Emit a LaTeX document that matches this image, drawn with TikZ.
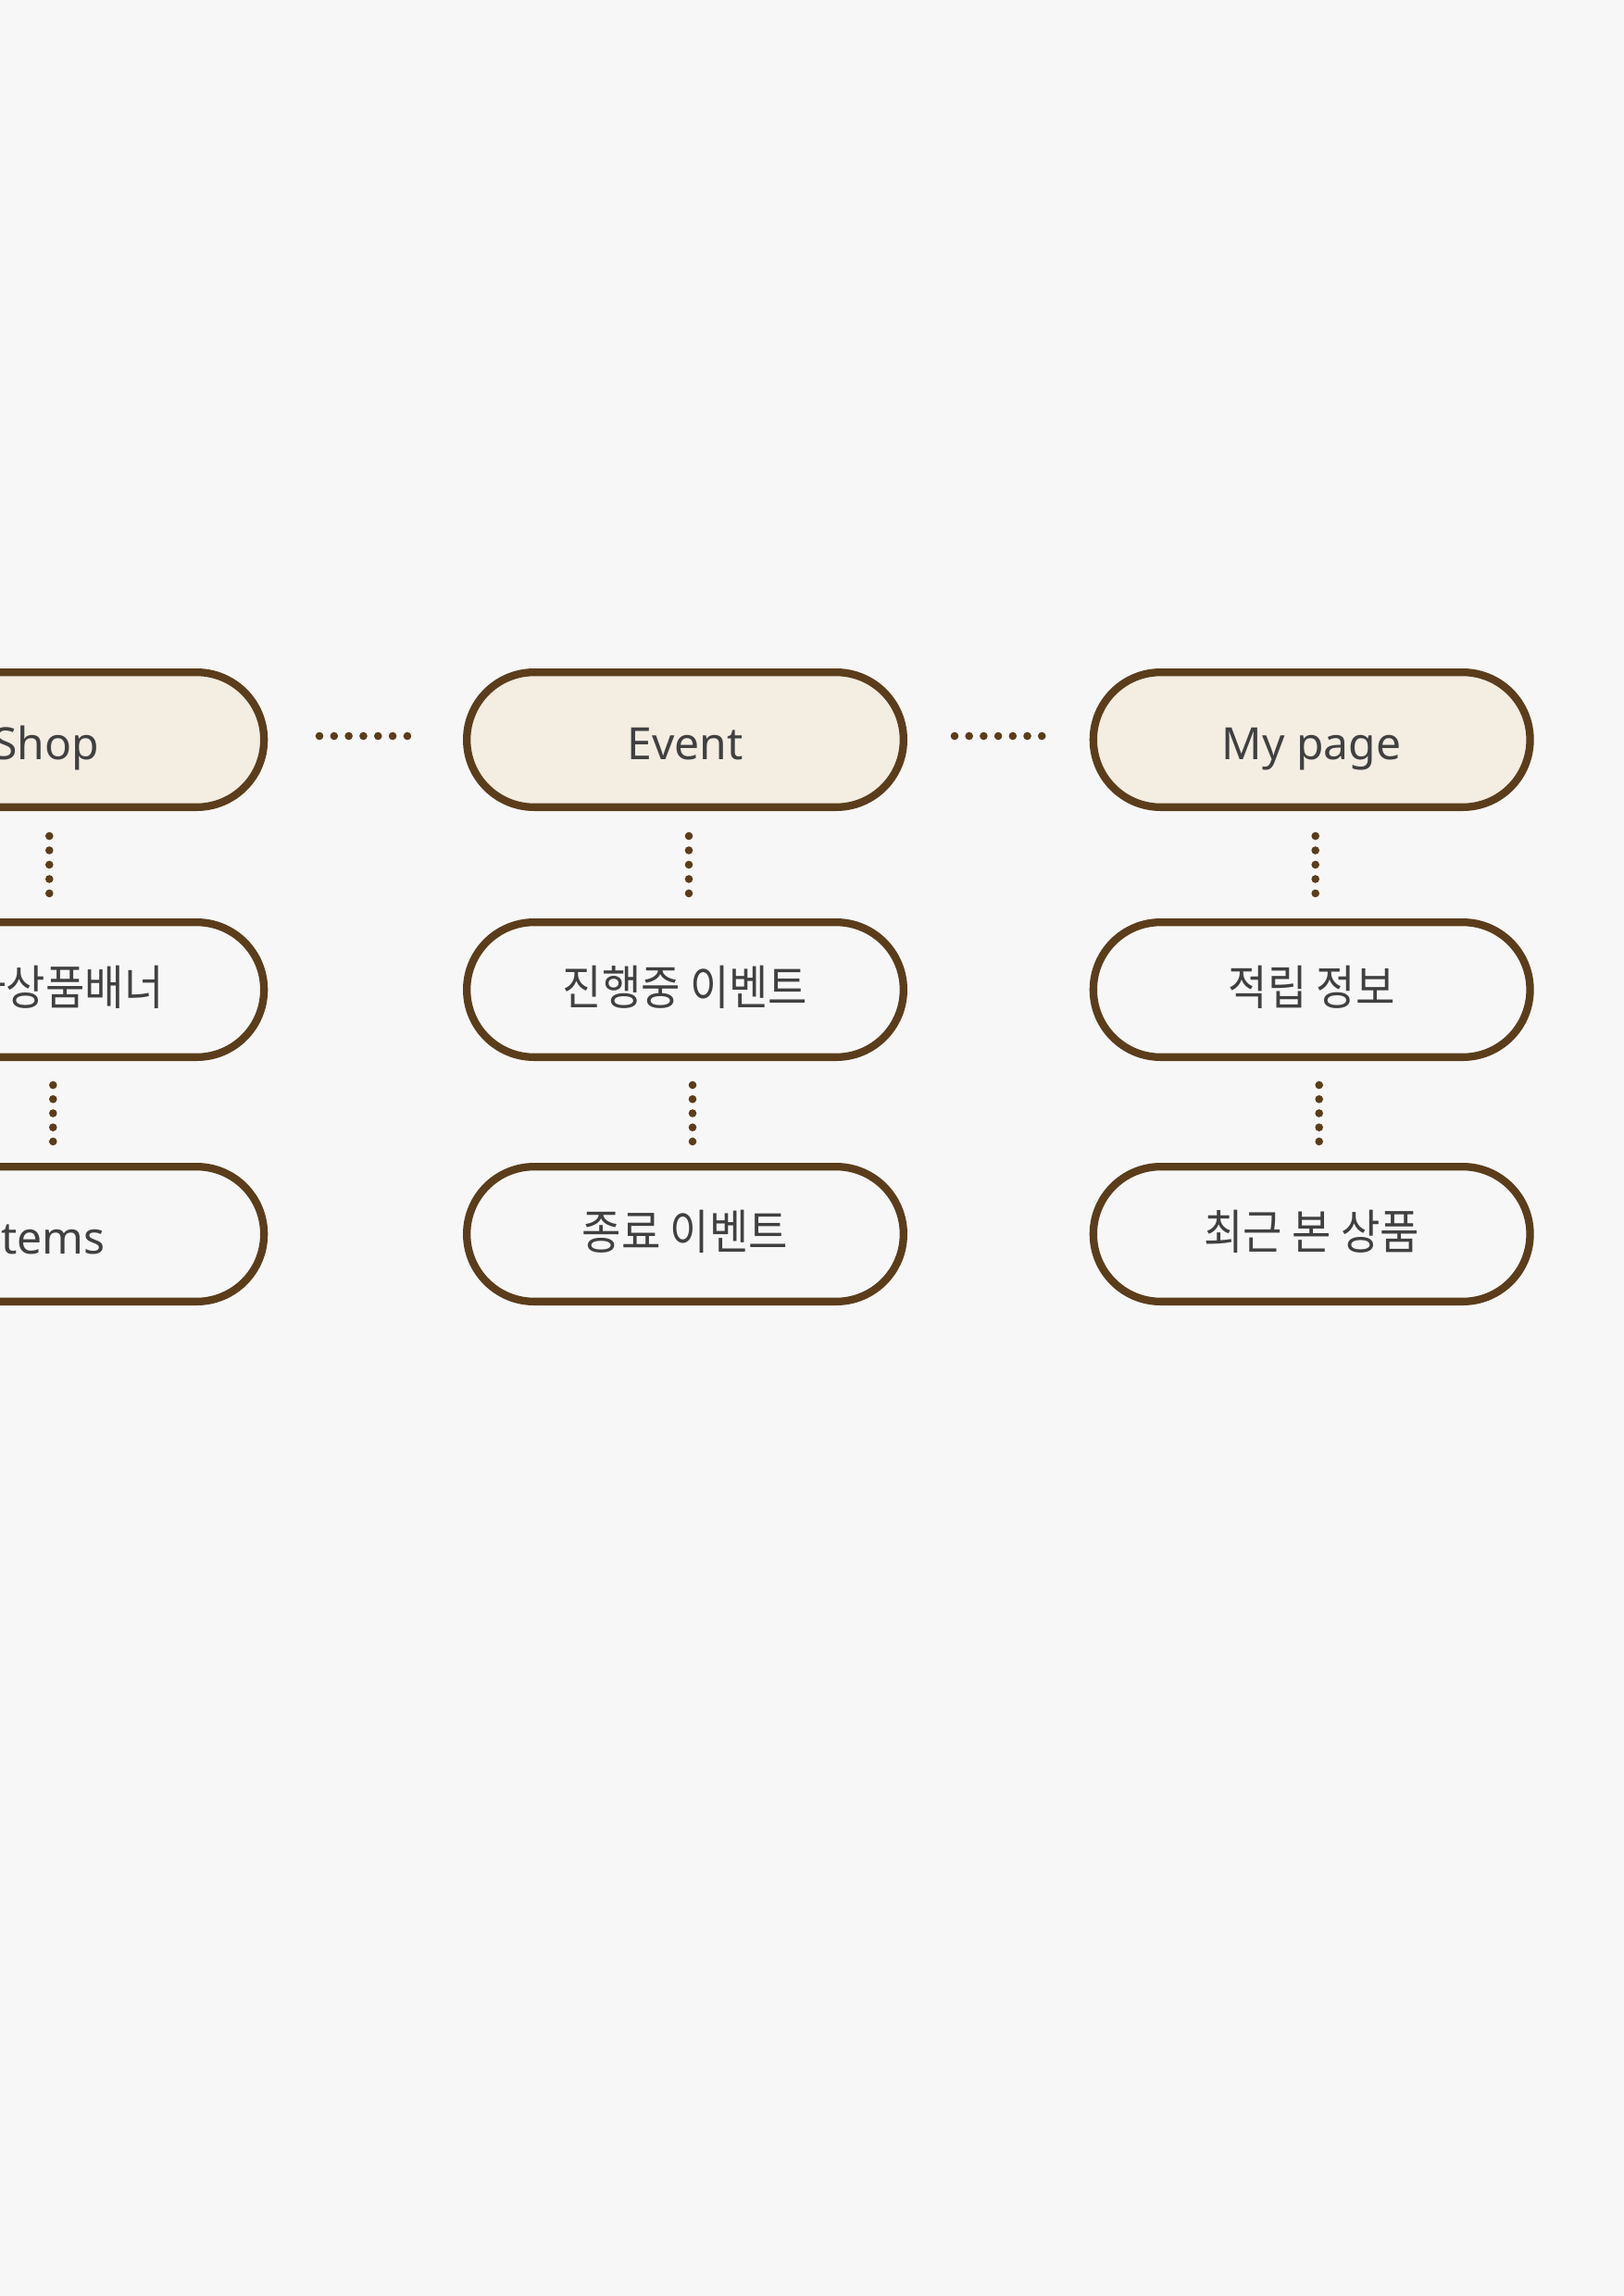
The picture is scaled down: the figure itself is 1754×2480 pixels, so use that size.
\documentclass[tikz,border=0pt]{standalone}
\usepackage{fontspec}
\setmainfont{Noto Sans}
\newfontfamily\latinfont{Noto Sans}
\newfontfamily\krfont[FakeStretch=0.9]{Noto Sans CJK KR}
\definecolor{bgc}{HTML}{F7F7F7}
\definecolor{brownc}{HTML}{5B3D1B}
\definecolor{beigec}{HTML}{F3EDE2}
\definecolor{textc}{HTML}{404040}
\tikzset{
  pill/.style={draw=brownc, line width=4.15pt, rounded corners=36.4pt,
    minimum width=235.85pt, minimum height=72.85pt, inner sep=0pt,
    outer sep=2.075pt, text=textc},
  toppill/.style={pill, fill=beigec, font=\latinfont\fontsize{24pt}{28pt}\selectfont,
    text height=21pt, text depth=0pt},
  subpill/.style={pill, fill=bgc, font=\krfont\fontsize{25.6pt}{30pt}\selectfont,
    text height=16.5pt, text depth=0pt},
  sublatin/.style={pill, fill=bgc, font=\latinfont\fontsize{24pt}{28pt}\selectfont,
    text height=21pt, text depth=0pt},
  dotconn/.style={draw=brownc, line width=4.3pt, line cap=round,
    dash pattern=on 0pt off #1}
}
\begin{document}
\begin{tikzpicture}[x=0.5pt, y=-0.5pt]
  \useasboundingbox (0,0) rectangle (1754,2480);
  \fill[bgc] (0,0) rectangle (1754,2480);
  \clip (0,0) rectangle (1754,2480);

  % top row
  \node[toppill] (shop)   at (49.3,799)   {Shop};
  \node[toppill] (event)  at (740,799)    {Event};
  \node[toppill] (mypage) at (1416.7,799) {My page};

  % second row
  \node[subpill] (shop2)   at (49.3,1069)   {특가상품배너};
  \node[subpill] (event2)  at (740,1069)    {진행중 이벤트};
  \node[subpill] (mypage2) at (1416.7,1069) {적립 정보};

  % third row
  \node[sublatin] (shop3)   at (49.3,1333)   {Items};
  \node[subpill]  (event3)  at (740,1333)    {종료 이벤트};
  \node[subpill]  (mypage3) at (1416.7,1333) {최근 본 상품};

  % horizontal dotted connectors
  \draw[dotconn=7.91pt]  ([shift={(55.7,-4)}]shop.east)  -- ([shift={(-60,-4)}]event.west);
  \draw[dotconn=7.855pt] ([shift={(51,-4)}]event.east)   -- ([shift={(-51.4,-4)}]mypage.west);

  % vertical dotted connectors row 1 -> row 2
  \draw[dotconn=7.745pt] ([shift={(4,27)}]shop.south)   -- ([shift={(4,-27)}]shop2.north);
  \draw[dotconn=7.745pt] ([shift={(4,27)}]event.south)  -- ([shift={(4,-27)}]event2.north);
  \draw[dotconn=7.745pt] ([shift={(4,27)}]mypage.south) -- ([shift={(4,-27)}]mypage2.north);

  % vertical dotted connectors row 2 -> row 3
  \draw[dotconn=7.62pt] ([shift={(8,26)}]shop2.south)   -- ([shift={(8,-23)}]shop3.north);
  \draw[dotconn=7.62pt] ([shift={(8,26)}]event2.south)  -- ([shift={(8,-23)}]event3.north);
  \draw[dotconn=7.62pt] ([shift={(8,26)}]mypage2.south) -- ([shift={(8,-23)}]mypage3.north);
\end{tikzpicture}
\end{document}
